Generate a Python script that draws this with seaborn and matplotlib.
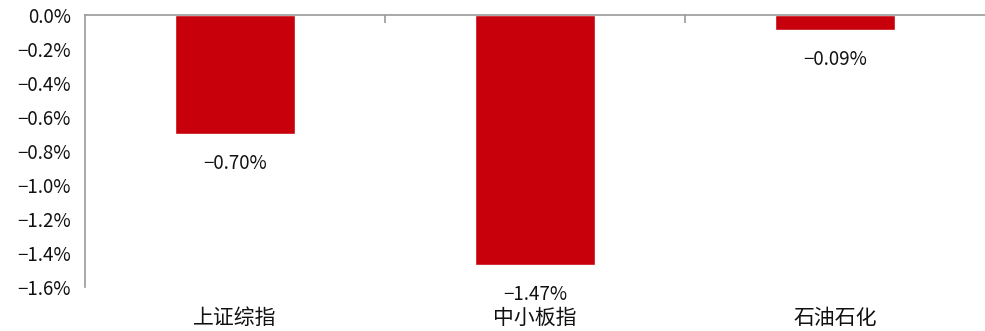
import pandas as pd
import matplotlib.pyplot as plt
import seaborn as sns

# 数据
categories = ['上证综指', '中小板指', '石油石化']
values = [-0.70, -1.47, -0.09]
yticks = [0.0, -0.2, -0.4, -0.6, -0.8, -1.0, -1.2, -1.4, -1.6]

df = pd.DataFrame({'name': categories, 'pct': values})

sns.set_style('white')
plt.rcParams['font.family'] = ['Noto Sans CJK SC', 'DejaVu Sans']
plt.rcParams['axes.unicode_minus'] = True

fig = plt.figure(figsize=(9.85, 3.31), dpi=100)
ax = fig.add_axes([0.0863, 0.133, 0.9137, 0.8217])
sns.barplot(x='name', y='pct', data=df, color='#C8000B', width=0.4,
            saturation=1, ax=ax)

ax.set_ylim(-1.6, 0)
ax.set_xlim(-0.5, 2.5)
ax.set_yticks(yticks)
ax.set_yticklabels([f'{v:.1f}%'.replace('-', '\u2212') for v in yticks],
                   fontsize=13.5, color='#111111')
ax.set_xlabel('')
ax.set_ylabel('')

# 边框
for s in ['bottom', 'right']:
    ax.spines[s].set_visible(False)
for s in ['top', 'left']:
    ax.spines[s].set_color('#999999')
    ax.spines[s].set_linewidth(1.2)

ax.tick_params(axis='y', direction='out', length=6, color='#999999', width=1.2, pad=4)
ax.tick_params(axis='x', which='major', bottom=False, top=False, labelsize=15,
               pad=11, labelcolor='#111111')
ax.set_xticks([0.5, 1.5], minor=True)
ax.tick_params(axis='x', which='minor', bottom=False, top=True, direction='in',
               length=6, color='#999999', width=1.2)

# 数值标签
for i, v in enumerate(values):
    ax.annotate(f'{v:.2f}%'.replace('-', '\u2212'), (i, v), xytext=(0, -21),
                textcoords='offset points', ha='center', va='center',
                fontsize=13.5, color='#111111')

fig.savefig('out.png', dpi=100)
